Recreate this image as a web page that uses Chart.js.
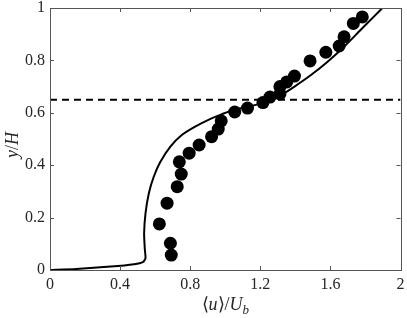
<!DOCTYPE html>
<html>
<head>
<meta charset="utf-8">
<script src="https://cdn.jsdelivr.net/npm/chart.js@4/dist/chart.umd.min.js"></script>
<style>
  html, body { margin: 0; padding: 0; background: #fff; }
  #wrap { width: 407px; height: 318px; }
</style>
</head>
<body>
<div id="wrap"><canvas id="chart" width="407" height="318"></canvas></div>
<script>
// axis ticks
const xTicks = [0, 0.4, 0.8, 1.2, 1.6, 2];
const yTicks = [0, 0.2, 0.4, 0.6, 0.8, 1];

// simulation profile (solid line)
const lineU = [0, 0.15, 0.347, 0.48, 0.53, 0.545, 0.541, 0.537, 0.545, 0.564, 0.592, 0.63, 0.687,
    0.752, 0.828, 0.904, 0.979, 1.045, 1.206, 1.319, 1.395, 1.489, 1.584, 1.678, 1.772, 1.848, 1.895];
const lineY = [0, 0.004, 0.013, 0.022, 0.03, 0.045, 0.08, 0.14, 0.216, 0.293, 0.356, 0.413, 0.471,
    0.515, 0.547, 0.573, 0.594, 0.611, 0.636, 0.668, 0.7, 0.744, 0.795, 0.852, 0.916, 0.967, 0.999];

// experiment (filled circles)
const expU = [0.692, 0.687, 0.624, 0.668, 0.726, 0.749, 0.738, 0.794, 0.851, 0.922, 0.96, 0.977, 1.054,
    1.127, 1.215, 1.255, 1.312, 1.312, 1.351, 1.395, 1.484, 1.574, 1.65, 1.678, 1.731, 1.782];
const expY = [0.057, 0.102, 0.176, 0.255, 0.318, 0.366, 0.413, 0.446, 0.477, 0.509, 0.538, 0.569, 0.603,
    0.618, 0.639, 0.66, 0.672, 0.7, 0.718, 0.74, 0.798, 0.831, 0.855, 0.89, 0.941, 0.966];

// dashed reference level
const dashY = 0.65;

const FONT = "'Liberation Serif', 'Times New Roman', serif";
const fmt = v => String(+Number(v).toFixed(1));

const boxPlugin = {
    id: "box",
    afterDraw(chart) {
        const ctx = chart.ctx;
        const a = chart.chartArea;
        const xs = chart.scales.x, ys = chart.scales.y;
        ctx.save();
        ctx.strokeStyle = "#555";
        ctx.lineWidth = 1;
        ctx.strokeRect(Math.round(a.left) + 0.5, Math.round(a.top) + 0.5,
            Math.round(a.right - a.left), Math.round(a.bottom - a.top));
        const len = 4;
        ctx.beginPath();
        xTicks.forEach(t => {
            const px = Math.round(xs.getPixelForValue(t)) + 0.5;
            ctx.moveTo(px, a.bottom); ctx.lineTo(px, a.bottom - len);
            ctx.moveTo(px, a.top); ctx.lineTo(px, a.top + len);
        });
        yTicks.forEach(t => {
            const py = Math.round(ys.getPixelForValue(t)) + 0.5;
            ctx.moveTo(a.left, py); ctx.lineTo(a.left + len, py);
            ctx.moveTo(a.right, py); ctx.lineTo(a.right - len, py);
        });
        ctx.stroke();

        // axis titles with math-like styling
        ctx.fillStyle = "#262626";
        ctx.textBaseline = "alphabetic";
        const cx = (a.left + a.right) / 2;
        const parts = [
            ["⟨", "18px " + FONT, 0],
            ["u", "italic 18px " + FONT, 0],
            ["⟩", "18px " + FONT, 0],
            ["/", "18px " + FONT, 0],
            ["U", "italic 18px " + FONT, 0],
            ["b", "italic 13px " + FONT, 4]
        ];
        let total = 0;
        parts.forEach(p => { ctx.font = p[1]; total += ctx.measureText(p[0]).width; });
        let x = cx - total / 2;
        parts.forEach(p => {
            ctx.font = p[1];
            ctx.textAlign = "left";
            ctx.fillText(p[0], x, 310 + p[2]);
            x += ctx.measureText(p[0]).width;
        });

        ctx.translate(18, (a.top + a.bottom) / 2 + 6);
        ctx.rotate(-Math.PI / 2);
        const yparts = [
            ["y", "italic 18px " + FONT],
            ["/", "18px " + FONT],
            ["H", "italic 18px " + FONT]
        ];
        total = 0;
        yparts.forEach(p => { ctx.font = p[1]; total += ctx.measureText(p[0]).width; });
        x = -total / 2;
        yparts.forEach(p => {
            ctx.font = p[1];
            ctx.fillText(p[0], x, 0);
            x += ctx.measureText(p[0]).width;
        });
        ctx.restore();
    }
};

const ctx = document.getElementById("chart").getContext("2d");

new Chart(ctx, {
    type: "scatter",
    data: {
        datasets: [
            {
                label: "simulation",
                data: lineU.map((u, i) => ({ x: u, y: lineY[i] })),
                showLine: true,
                borderColor: "#000",
                borderWidth: 2,
                pointRadius: 0,
                tension: 0.2,
                order: 2,
            },
            {
                label: "reference level",
                data: [{ x: 0, y: dashY }, { x: 2, y: dashY }],
                showLine: true,
                borderColor: "#000",
                borderWidth: 2,
                borderDash: [7, 5],
                pointRadius: 0,
                order: 3,
            },
            {
                label: "experiment",
                data: expU.map((u, i) => ({ x: u, y: expY[i] })),
                backgroundColor: "#000",
                borderColor: "#000",
                pointRadius: 6.5,
                pointBorderWidth: 0,
                order: 1,
            },
        ],
    },
    options: {
        responsive: false,
        animation: false,
        layout: { padding: { top: 8, right: 4, left: 0, bottom: 0 } },
        plugins: {
            legend: { display: false },
            tooltip: { enabled: false },
        },
        scales: {
            x: {
                type: "linear",
                min: 0,
                max: 2,
                afterBuildTicks: s => { s.ticks = xTicks.map(v => ({ value: v })); },
                afterFit: s => { s.height = 48; s.paddingLeft = 0; s.paddingRight = 0; },
                grid: { display: false, drawTicks: false },
                border: { display: false },
                ticks: {
                    callback: fmt,
                    color: "#262626",
                    font: { family: FONT, size: 16 },
                    padding: 5,
                    maxRotation: 0,
                },
            },
            y: {
                type: "linear",
                min: 0,
                max: 1,
                afterBuildTicks: s => { s.ticks = yTicks.map(v => ({ value: v })); },
                afterFit: s => { s.width = 50; s.paddingTop = 0; s.paddingBottom = 0; },
                grid: { display: false, drawTicks: false },
                border: { display: false },
                ticks: {
                    callback: fmt,
                    color: "#262626",
                    font: { family: FONT, size: 16 },
                    padding: 5,
                },
            },
        },
    },
    plugins: [boxPlugin],
});
</script>
</body>
</html>
